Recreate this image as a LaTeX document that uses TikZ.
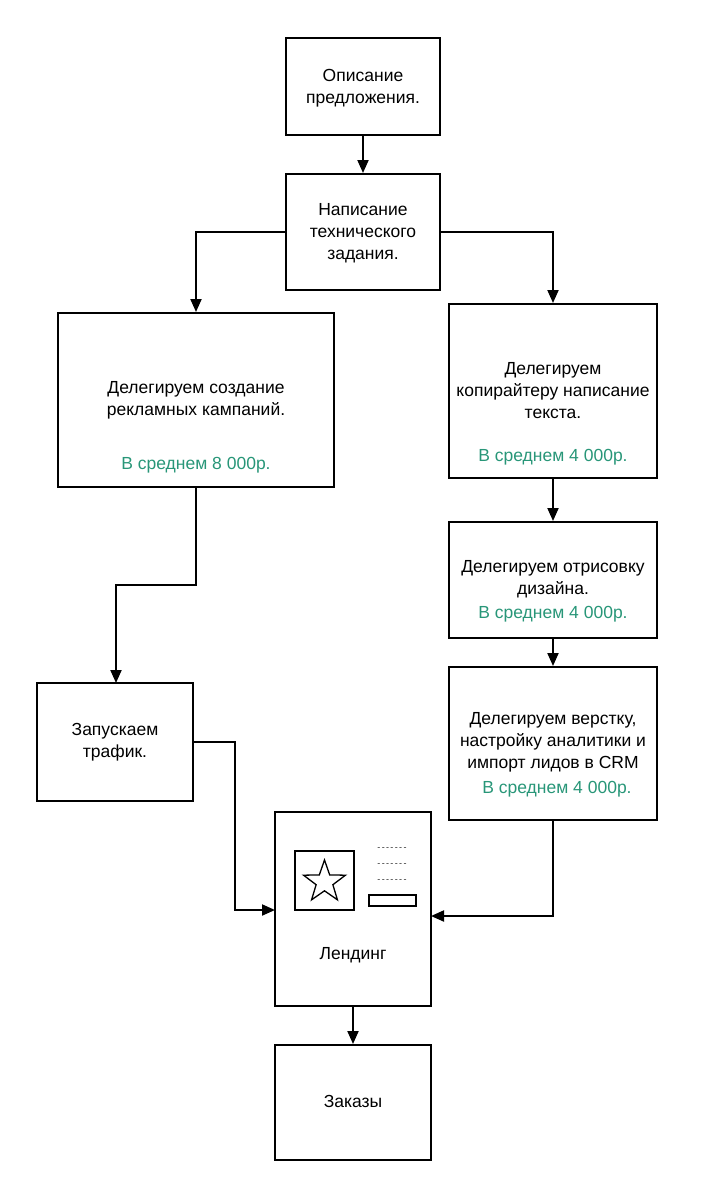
\documentclass[tikz,border=0pt]{standalone}
\usepackage{fontspec}
\setmainfont{Liberation Sans}
\newfontfamily\dashfont[LetterSpace=15]{Liberation Sans}
\usetikzlibrary{arrows.meta,shapes.geometric}
\definecolor{price}{RGB}{40,150,120}
\begin{document}
\begin{tikzpicture}[x=1pt,y=-1pt,
  box/.style={draw,line width=2pt,rectangle,inner sep=0pt},
  txt/.style={font=\fontsize{17.5}{22}\selectfont,align=center,inner sep=0pt},
  green/.style={txt,text=price},
  conn/.style={line width=2pt,-{Triangle[length=13pt,width=11pt]}},
  dashtxt/.style={font=\dashfont\fontsize{9}{9}\selectfont,inner sep=0pt,text=black!85}]
\useasboundingbox (0,0) rectangle (712,1200);
% boxes
\node[box,minimum width=154pt,minimum height=97pt] (b1) at (363,86.5) {};
\node[box,minimum width=154pt,minimum height=116pt] (b2) at (363,232) {};
\node[box,minimum width=276pt,minimum height=174pt] (b3) at (196,400) {};
\node[box,minimum width=208pt,minimum height=174pt] (b4) at (553,391) {};
\node[box,minimum width=208pt,minimum height=116pt] (b5) at (553,580) {};
\node[box,minimum width=208pt,minimum height=153pt] (b6) at (553,743.5) {};
\node[box,minimum width=156pt,minimum height=118pt] (b7) at (115,742) {};
\node[box,minimum width=156pt,minimum height=194pt] (b8) at (353,909) {};
\node[box,minimum width=156pt,minimum height=115pt] (b9) at (353,1102.5) {};
% texts
\node[txt] (t1) at (363,88) {Описание\\предложения.};
\node[txt] (t2) at (363,233) {Написание\\технического\\задания.};
\node[txt] (t3) at (196,400) {Делегируем создание\\рекламных кампаний.};
\node[green] (p3) at (196,465) {В среднем 8 000р.};
\node[txt] (t4) at (553,391) {Делегируем\\копирайтеру написание\\текста.};
\node[green] (p4) at (553,457) {В среднем 4 000р.};
\node[txt] (t5) at (553,579) {Делегируем отрисовку\\дизайна.};
\node[green] (p5) at (553,614) {В среднем 4 000р.};
\node[txt] (t6) at (553,742) {Делегируем верстку,\\настройку аналитики и\\импорт лидов в CRM};
\node[green] (p6) at (557,789) {В среднем 4 000р.};
\node[txt] (t7) at (115,742) {Запускаем\\трафик.};
\node[txt] (t8) at (353,955) {Лендинг};
\node[txt] (t9) at (353,1101) {Заказы};
% landing icons
\node[draw,line width=1.5pt,minimum width=59pt,minimum height=59pt,inner sep=0pt] (img) at (324.5,880.5) {};
\node[draw,line width=1.3pt,star,star points=5,star point ratio=2.5,minimum size=44pt,inner sep=0pt] (st) at (324.5,882) {};
\node[dashtxt] (d1) at (392,849) {-------};
\node[dashtxt] (d2) at (392,865) {-------};
\node[dashtxt] (d3) at (392,881) {-------};
\node[draw,line width=1.5pt,minimum width=47pt,minimum height=11pt,inner sep=0pt] (btn) at (392.5,900.5) {};
% connectors
\draw[conn] (b1.south) -- (b2.north);
\draw[conn] (b2.west) -| (b3.north);
\draw[conn] (b2.east) -| (b4.north);
\draw[conn] (b3.south) |- (116,585) -- (116,683);
\draw[conn] (b4.south) -- (b5.north);
\draw[conn] (b5.south) -- (b6.north);
\draw[conn] (b7.east) -| (235,910) -- (275,910);
\draw[conn] (b6.south) |- (431,916);
\draw[conn] (b8.south) -- (b9.north);
\end{tikzpicture}
\end{document}
